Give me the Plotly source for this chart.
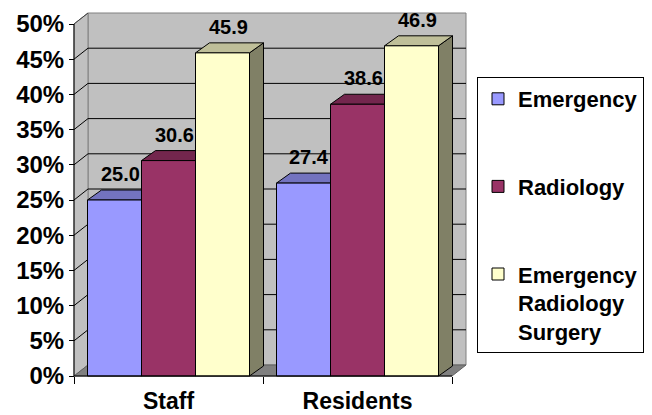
import plotly.graph_objects as go

# ---------------- data ----------------
categories = ["Staff", "Residents"]
series_names = ["Emergency", "Radiology", "Emergency<br>Radiology<br>Surgery"]
emergency = [25.0, 27.4]
radiology = [30.6, 38.6]
surgery = [45.9, 46.9]
series_values = [emergency, radiology, surgery]
y_ticks = [0, 5, 10, 15, 20, 25, 30, 35, 40, 45, 50]

# ---------------- styles ----------------
front_colors = ["#9999FF", "#993366", "#FFFFCC"]
top_colors = ["#7373BF", "#73264D", "#BFBF99"]
side_colors = ["#4D4D80", "#4D1A33", "#808066"]
WALL = "#C0C0C0"
WALL_EDGE = "#808080"
FLOOR = "#808080"
FONT = "Liberation Sans, Arial, sans-serif"

W, H = 652, 415
FRONT_L, FRONT_R, FRONT_B, FRONT_T = 74, 452, 376, 24   # pixel frame of the front plane
DEPTH_X, WALL_DY, BAR_DY = 14, 11, 10
PAD = 3
YMAX_TICK = 50

px_cat = (FRONT_R - FRONT_L) / len(categories)
px_pct = (FRONT_B - FRONT_T) / YMAX_TICK
x_lo = -0.5 - PAD / px_cat
x_hi = len(categories) - 0.5 + (DEPTH_X + PAD) / px_cat
y_lo = -PAD / px_pct
y_hi = YMAX_TICK + (WALL_DY + PAD) / px_pct
plot_l = FRONT_L - PAD
plot_r = FRONT_R + DEPTH_X + PAD
plot_t = FRONT_T - WALL_DY - PAD
plot_b = FRONT_B + PAD
plot_w = plot_r - plot_l
plot_h = plot_b - plot_t

dx = DEPTH_X / px_cat
wdy = WALL_DY / px_pct
bdy = BAR_DY / px_pct
bargap = 2 * 13.5 / px_cat
bar_w = (1 - bargap) / len(series_names)
xa0, xa1 = -0.5, len(categories) - 0.5

fig = go.Figure()
for j, name in enumerate(series_names):
    fig.add_trace(go.Bar(
        x=categories, y=series_values[j], name=name, legendgroup=name,
        marker=dict(color=front_colors[j], line=dict(color="black", width=1)),
        hoverinfo="skip",
    ))

shapes = []
def path(pts):
    return "M " + " L ".join(f"{x},{y}" for x, y in pts) + " Z"

# back wall, side wall, floor
shapes.append(dict(type="path", path=path([(xa0 + dx, wdy), (xa1 + dx, wdy), (xa1 + dx, YMAX_TICK + wdy), (xa0 + dx, YMAX_TICK + wdy)]),
                   fillcolor=WALL, line=dict(color=WALL_EDGE, width=1)))
shapes.append(dict(type="path", path=path([(xa0, 0), (xa0, YMAX_TICK), (xa0 + dx, YMAX_TICK + wdy), (xa0 + dx, wdy)]),
                   fillcolor=WALL, line=dict(color=WALL_EDGE, width=1)))
shapes.append(dict(type="path", path=path([(xa0, 0), (xa1, 0), (xa1 + dx, wdy), (xa0 + dx, wdy)]),
                   fillcolor=FLOOR, line=dict(color="#606060", width=1)))
# gridlines on walls
for v in y_ticks[1:-1]:
    shapes.append(dict(type="line", x0=xa0 + dx, x1=xa1 + dx, y0=v + wdy, y1=v + wdy, line=dict(color="black", width=1)))
    shapes.append(dict(type="line", x0=xa0, x1=xa0 + dx, y0=v, y1=v + wdy, line=dict(color="black", width=1)))
shapes.append(dict(type="line", x0=xa0, x1=xa0 + dx, y0=YMAX_TICK, y1=YMAX_TICK + wdy, line=dict(color="#404040", width=1)))

# bar tops and sides
annotations = []
for i, cat in enumerate(categories):
    for j in range(len(series_names)):
        v = series_values[j][i]
        L = i - 0.5 + bargap / 2 + j * bar_w
        R = L + bar_w
        shapes.append(dict(type="path", path=path([(R, 0), (R, v), (R + dx, v + bdy), (R + dx, bdy)]),
                           fillcolor=side_colors[j], line=dict(color="black", width=1)))
        shapes.append(dict(type="path", path=path([(L, v), (R, v), (R + dx, v + bdy), (L + dx, v + bdy)]),
                           fillcolor=top_colors[j], line=dict(color="black", width=1)))
        annotations.append(dict(x=(L + R) / 2 + dx * 0.4, y=v + bdy, xref="x", yref="y",
                                text=f"{v:.1f}", showarrow=False, yanchor="bottom", yshift=3,
                                font=dict(family=FONT, size=20, color="black", weight="bold")))
for s in shapes:
    s.setdefault("xref", "x")
    s.setdefault("yref", "y")
    s["layer"] = "below"

# front axis lines (above)
shapes.append(dict(type="line", xref="x", yref="y", x0=xa0, x1=xa0, y0=0, y1=YMAX_TICK, line=dict(color="black", width=1), layer="above"))
shapes.append(dict(type="line", xref="x", yref="y", x0=xa0, x1=xa1, y0=0, y1=0, line=dict(color="black", width=1), layer="above"))

fig.update_layout(
    width=W, height=H,
    margin=dict(l=plot_l, r=W - plot_r, t=plot_t, b=H - plot_b, autoexpand=False),
    paper_bgcolor="white", plot_bgcolor="white",
    barmode="group", bargap=bargap, bargroupgap=0,
    shapes=shapes, annotations=annotations,
    showlegend=True,
    legend=dict(
        x=(477 - plot_l) / plot_w, y=(plot_b - 77) / plot_h, xanchor="left", yanchor="top",
        traceorder="grouped", tracegroupgap=56, valign="top",
        bordercolor="black", borderwidth=1, bgcolor="white",
        font=dict(family=FONT, size=22, color="black", weight="bold"),
    ),
    xaxis=dict(
        range=[x_lo, x_hi], showgrid=False, zeroline=False, showline=False,
        anchor="free", position=PAD / plot_h,
        ticks="outside", tickson="boundaries", ticklen=7, tickcolor="black", tickwidth=1,
        ticklabelstandoff=9,
        tickfont=dict(family=FONT, size=23, color="black", weight="bold"),
        fixedrange=True,
    ),
    yaxis=dict(
        range=[y_lo, y_hi], showgrid=False, zeroline=False, showline=False,
        anchor="free", position=PAD / plot_w,
        tickvals=y_ticks, ticktext=[f"{v}%" for v in y_ticks],
        ticks="outside", ticklen=5, tickcolor="black", tickwidth=1,
        tickfont=dict(family=FONT, size=24, color="black", weight="bold"),
        fixedrange=True,
    ),
)

fig.write_html("out.html")
